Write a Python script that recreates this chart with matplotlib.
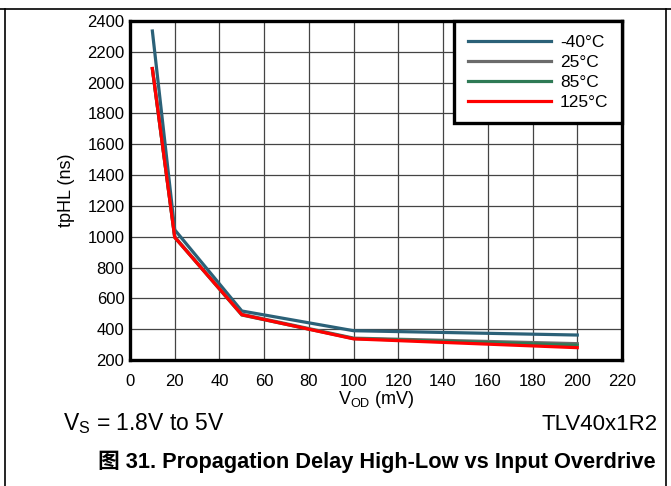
import matplotlib
matplotlib.use("Agg")
import matplotlib.pyplot as plt
from matplotlib.lines import Line2D

plt.rcParams['font.family'] = ['Liberation Sans', 'Noto Sans CJK SC', 'DejaVu Sans']

VOD = [10, 20, 50, 100, 200]
T_M40 = [2335, 1045, 518, 390, 362]
T_25 = [2090, 1000, 497, 342, 306]
T_85 = [2090, 996, 492, 339, 296]
T_125 = [2092, 996, 494, 337, 280]
LABELS = ["-40°C", "25°C", "85°C", "125°C"]
COLORS = ["#2b6178", "#6b6b6b", "#2f7a55", "#ff0000"]
XTICKS = list(range(0, 221, 20))
YTICKS = list(range(200, 2401, 200))

W, H = 671, 486
fig = plt.figure(figsize=(W / 100, H / 100), dpi=100)

# outer frame of the datasheet figure
fig.add_artist(Line2D([0, 1], [1 - 9 / H, 1 - 9 / H], color="k", lw=1.2))
fig.add_artist(Line2D([5 / W, 5 / W], [0, 1 - 9 / H], color="k", lw=1.2))
fig.add_artist(Line2D([666 / W, 666 / W], [0, 1 - 9 / H], color="k", lw=1.2))

ax = fig.add_axes([130 / W, 1 - 360 / H, (622 - 130) / W, (360 - 21) / H])
for y, lab, c in zip([T_M40, T_25, T_85, T_125], LABELS, COLORS):
    ax.plot(VOD, y, color=c, lw=2.3, label=lab, solid_joinstyle="miter")

ax.set_xlim(0, 220)
ax.set_ylim(200, 2400)
ax.set_xticks(XTICKS)
ax.set_yticks(YTICKS)
ax.tick_params(length=0, labelsize=12)
ax.tick_params(axis="x", pad=10)
ax.tick_params(axis="y", pad=4)
ax.grid(True, color="#444444", lw=0.9)
ax.set_axisbelow(True)
for s in ax.spines.values():
    s.set_linewidth(2.4)
    s.set_color("k")

ax.set_xlabel("V$_{\\mathregular{OD}}$ (mV)", fontsize=13, labelpad=0)
ax.set_ylabel("tpHL (ns)", fontsize=13, labelpad=9)

leg = ax.legend(loc="upper right", bbox_to_anchor=(1, 1), borderaxespad=0,
                fancybox=False, framealpha=1, edgecolor="k", fontsize=12.5,
                handlelength=4.8, handletextpad=0.5, labelspacing=0.28,
                borderpad=0.78)
leg.get_frame().set_linewidth(2.4)

fig.text(63 / W, 1 - 424 / H, "V$_{\\mathregular{S}}$ = 1.8V to 5V", fontsize=16.5, va="center")
fig.text(658 / W, 1 - 424 / H, "TLV40x1R2", fontsize=16, va="center", ha="right")
fig.text(377 / W, 1 - 462 / H, "图 31. Propagation Delay High-Low vs Input Overdrive",
         fontsize=15.7, fontweight="bold", ha="center", va="center")

fig.savefig("out.png", dpi=100)
